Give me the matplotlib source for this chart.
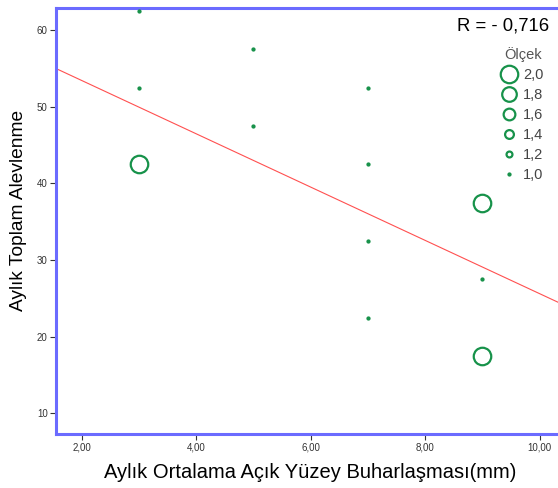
import numpy as np
import matplotlib
matplotlib.use("Agg")
import matplotlib.pyplot as plt
from matplotlib.lines import Line2D

plt.rcParams["font.family"] = ["Liberation Sans", "DejaVu Sans"]

# monthly evaporation (mm) vs. monthly total flare-ups, marker size = scale
evap = [3, 3, 3, 5, 5, 7, 7, 7, 7, 9, 9, 9]
flares = [62.5, 52.5, 42.5, 57.5, 47.5, 52.5, 42.5, 32.5, 22.5, 37.5, 27.5, 17.5]
scale = [1.0, 1.0, 2.0, 1.0, 1.0, 1.0, 1.0, 1.0, 1.0, 2.0, 1.0, 2.0]
legend_levels = [2.0, 1.8, 1.6, 1.4, 1.2, 1.0]
fit_intercept, fit_slope = 60.39, -3.477
r_value = "- 0,716"

GREEN = "#17924a"
FRAME = "#6b6bff"

def diam(v):
    # marker diameter in points for a scale value
    return (3.0 + 14.5 * (v - 1.0)) * 0.72

def edge(v):
    return 1.6 if v >= 1.2 else 0.9

fig = plt.figure(figsize=(5.58, 4.88), dpi=100)
ax = fig.add_axes([56 / 558, 1 - 434 / 488, 1 - 56 / 558 + 0.01, 426 / 488])
xmin, xmax = 1.55, 10.42
ax.set_xlim(xmin, xmax)
ax.set_ylim(7.3, 62.9)

xs = np.array([xmin, xmax])
ax.plot(xs, fit_intercept + fit_slope * xs, color="#ff5050", lw=0.8, zorder=2)

for x, y, s in zip(evap, flares, scale):
    ax.plot(x, y, "o", ms=diam(s), mfc="none" if s > 1.0 else GREEN,
            mec=GREEN, mew=edge(s), zorder=3, clip_on=False)

for sp in ("left", "bottom", "top"):
    ax.spines[sp].set_color(FRAME)
    ax.spines[sp].set_linewidth(2.2)
ax.spines["right"].set_visible(False)

ax.set_xticks([2, 4, 6, 8, 10])
ax.set_xticklabels(["2,00", "4,00", "6,00", "8,00", "10,00"])
ax.set_yticks([10, 20, 30, 40, 50, 60])
ax.tick_params(axis="both", labelsize=7, colors="#333333", length=4, width=0.8, pad=2)
ax.set_xlabel("Aylık Ortalama Açık Yüzey Buharlaşması(mm)", fontsize=14.5, va="center")
ax.set_ylabel("Aylık Toplam Alevlenme", fontsize=13.8, va="center")
ax.xaxis.set_label_coords(0.5, -39 / 426)
ax.yaxis.set_label_coords(-37 / 502, (434 - 210) / 426)

fig.text(549 / 558, 1 - 26 / 488, "R = " + r_value, ha="right", va="center",
         fontsize=13.3, color="black")

handles = [Line2D([], [], ls="none", marker="o", ms=diam(v),
                  mfc="none" if v > 1.0 else GREEN, mec=GREEN, mew=edge(v))
           for v in legend_levels]
labels = [f"{v:.1f}".replace(".", ",") for v in legend_levels]
leg = ax.legend(handles, labels, title="Ölçek", loc="upper right",
                bbox_to_anchor=(0.978, 0.93), frameon=False, fontsize=10.5,
                title_fontsize=10.5, handlelength=1.0, handletextpad=0.45,
                labelspacing=0.42, borderaxespad=0.2)
leg.get_title().set_color("#555555")
for t in leg.get_texts():
    t.set_color("#444444")

fig.savefig("out.png", dpi=100)
